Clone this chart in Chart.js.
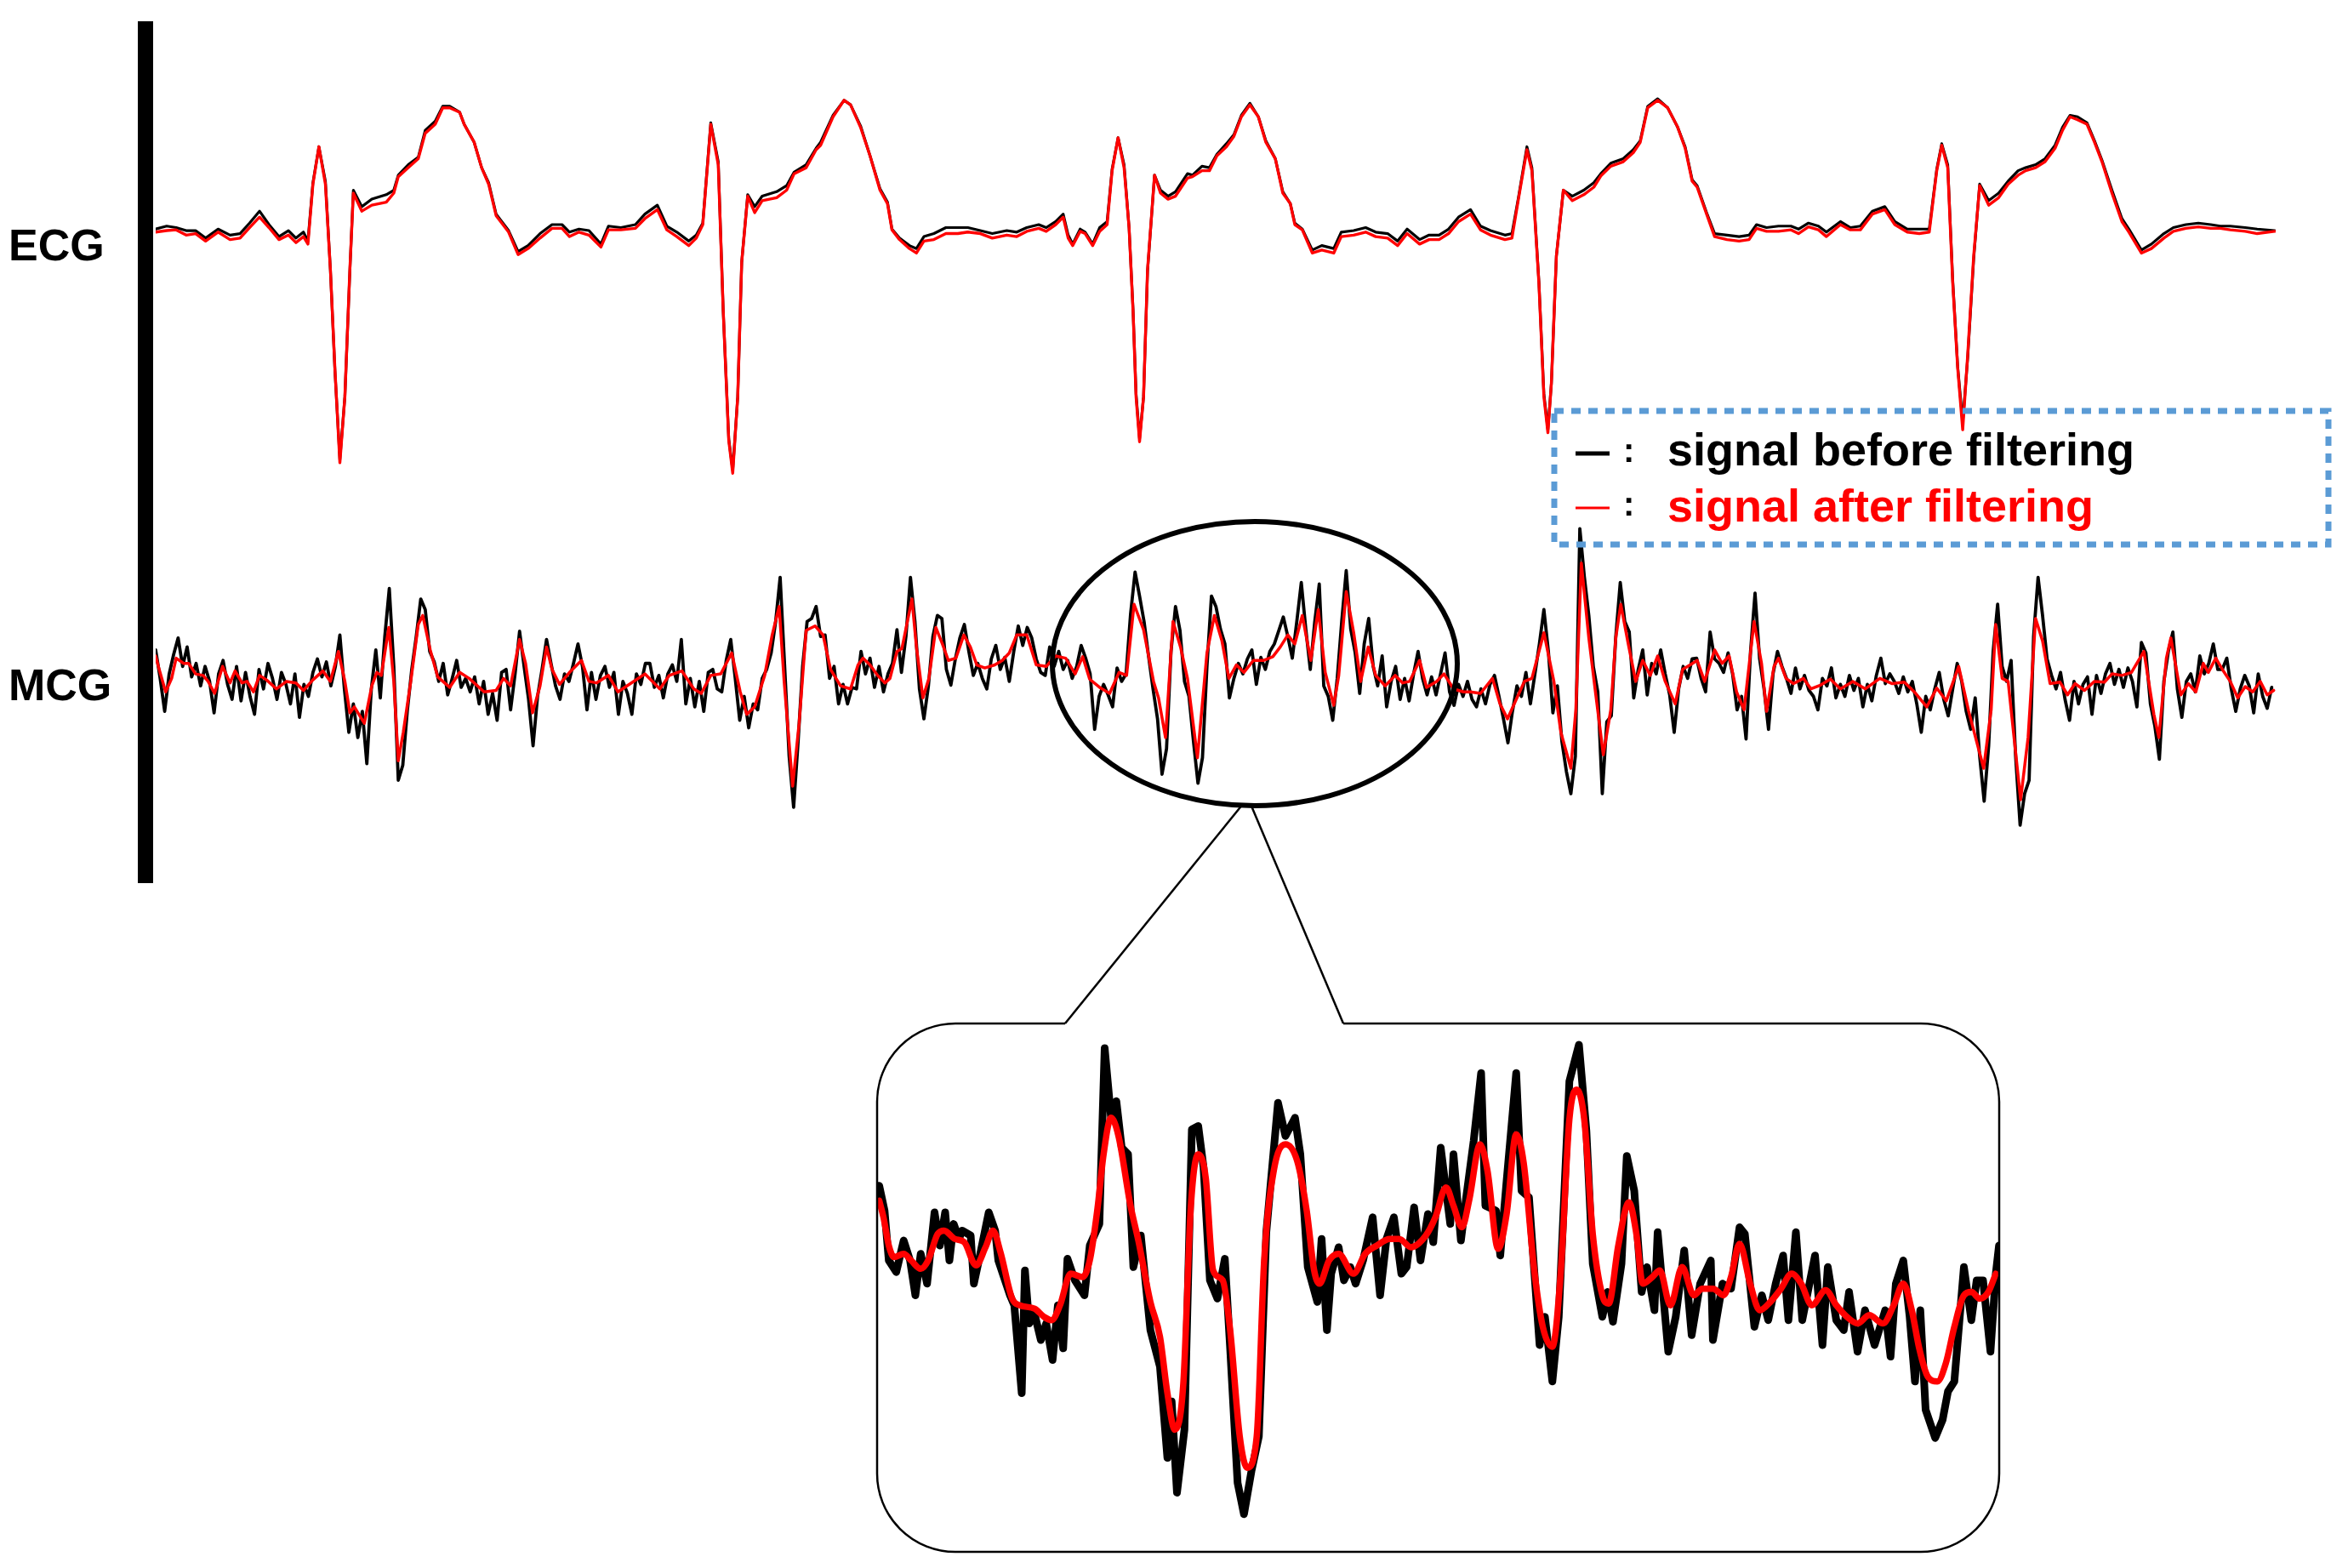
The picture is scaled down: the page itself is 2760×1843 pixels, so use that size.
<!DOCTYPE html>
<html lang="en">
<head>
<meta charset="UTF-8">
<title>ECG / MCG - signal before and after filtering</title>
<script src="https://cdn.jsdelivr.net/npm/chart.js@4.4.1/dist/chart.umd.min.js"></script>
<style>
    html, body { margin: 0; padding: 0; background: #ffffff; }
    #page { position: relative; width: 2760px; height: 1843px; overflow: hidden; background: #ffffff; }
    .plot { position: absolute; }
    .plot canvas { display: block; }
    #overlay { position: absolute; left: 0; top: 0; }
</style>
</head>
<body>
<div id="page">
    <div class="plot" style="left:183px; top:80px; width:2492px; height:520px;">
        <canvas id="ecgChart" width="2492" height="520"></canvas>
    </div>
    <div class="plot" style="left:183px; top:600px; width:2492px; height:400px;">
        <canvas id="mcgChart" width="2492" height="400"></canvas>
    </div>
    <div class="plot" style="left:1031px; top:1210px; width:1319px; height:610px;">
        <canvas id="zoomChart" width="1319" height="610"></canvas>
    </div>

    <svg id="overlay" width="2760" height="1843" xmlns="http://www.w3.org/2000/svg">
        <!-- barre verticale -->
        <rect x="162" y="25" width="18" height="1013" fill="#000"/>
        <text x="10" y="306" font-family="'Liberation Sans', Arial, sans-serif" font-weight="bold" font-size="52">ECG</text>
        <text x="10" y="823" font-family="'Liberation Sans', Arial, sans-serif" font-weight="bold" font-size="52">MCG</text>

        <!-- légende -->
        <rect x="1827" y="483" width="910" height="157" fill="none" stroke="#5B9BD5" stroke-width="7" stroke-dasharray="11 9"/>
        <line x1="1852" y1="533" x2="1892" y2="533" stroke="#000" stroke-width="5"/>
        <line x1="1852" y1="597" x2="1892" y2="597" stroke="#ff0000" stroke-width="3"/>
        <text x="1908" y="543" font-family="'Liberation Sans', Arial, sans-serif" font-weight="bold" font-size="40">:</text>
        <text x="1908" y="606" font-family="'Liberation Sans', Arial, sans-serif" font-weight="bold" font-size="40">:</text>
        <text x="1960" y="547" font-family="'Liberation Sans', Arial, sans-serif" font-weight="bold" font-size="54" fill="#000">signal before filtering</text>
        <text x="1960" y="613" font-family="'Liberation Sans', Arial, sans-serif" font-weight="bold" font-size="54" fill="#ff0000">signal after filtering</text>

        <!-- ellipse et encadré du zoom -->
        <ellipse cx="1475" cy="780" rx="238" ry="167" fill="none" stroke="#000" stroke-width="6"/>
        <path d="M1252,1203 L1123,1203 A92,92 0 0 0 1031,1295 L1031,1732 A92,92 0 0 0 1123,1824 L2258,1824 A92,92 0 0 0 2350,1732 L2350,1295 A92,92 0 0 0 2258,1203 L1579,1203"
              fill="none" stroke="#000" stroke-width="2.5"/>
        <line x1="1252" y1="1203" x2="1461" y2="945" stroke="#000" stroke-width="2.5"/>
        <line x1="1579" y1="1203" x2="1470" y2="945" stroke="#000" stroke-width="2.5"/>
    </svg>
</div>

<script>
// ECG : instants (ms) et amplitudes (mV)
const ecgTime = [
    0, 22, 41, 61, 80, 100, 125, 149, 169, 188,
    208, 227, 247, 266, 281, 296, 305, 315, 327, 340,
    350, 359, 369, 379, 389, 396, 413, 433, 462, 477,
    486, 506, 526, 540, 560, 575, 589, 609, 618, 638,
    653, 667, 682, 707, 726, 746, 770, 794, 814, 829,
    848, 868, 892, 907, 932, 961, 980, 1005, 1024, 1044,
    1068, 1083, 1096, 1112, 1127, 1137, 1148, 1156, 1166, 1174,
    1186, 1200, 1215, 1244, 1264, 1279, 1303, 1323, 1332, 1357,
    1379, 1392, 1412, 1431, 1451, 1466, 1475, 1490, 1510, 1524,
    1539, 1559, 1583, 1607, 1627, 1652, 1676, 1705, 1725, 1745,
    1769, 1784, 1803, 1818, 1828, 1837, 1852, 1862, 1877, 1891,
    1906, 1916, 1928, 1940, 1950, 1958, 1964, 1971, 1979, 1987,
    2001, 2013, 2028, 2043, 2067, 2077, 2096, 2111, 2126, 2145,
    2160, 2175, 2192, 2209, 2224, 2243, 2258, 2273, 2282, 2297,
    2317, 2336, 2360, 2375, 2400, 2424, 2444, 2468, 2488, 2507,
    2532, 2551, 2571, 2590, 2610, 2634, 2654, 2674, 2703, 2717,
    2730, 2747, 2757, 2771, 2781, 2789, 2796, 2806, 2820, 2838,
    2861, 2881, 2895, 2915, 2940, 2960, 2974, 2989, 3009, 3029,
    3049, 3064, 3078, 3088, 3108, 3123, 3148, 3172, 3192, 3207,
    3227, 3251, 3276, 3291, 3311, 3331, 3347, 3375, 3395, 3415,
    3439, 3464, 3484, 3509, 3533, 3553, 3568, 3578, 3590, 3600,
    3610, 3620, 3630, 3642, 3654, 3672, 3692, 3711, 3731, 3746,
    3766, 3785, 3805, 3820, 3835, 3850, 3869, 3884, 3899, 3919,
    3939, 3953, 3978, 3998, 4023, 4042, 4067, 4092, 4117, 4136,
    4156, 4186, 4210, 4245
];
const ecgAfter = [
    0.00, 0.01, 0.015, -0.02, -0.01, -0.06, 0.00, -0.05, -0.04, 0.03,
    0.10, 0.03, -0.05, -0.02, -0.07, -0.03, -0.08, 0.32, 0.57, 0.32,
    -0.25, -0.91, -1.54, -1.10, -0.25, 0.26, 0.14, 0.18, 0.20, 0.26,
    0.37, 0.43, 0.49, 0.66, 0.72, 0.83, 0.83, 0.80, 0.72, 0.60,
    0.43, 0.32, 0.11, 0.00, -0.15, -0.11, -0.04, 0.025, 0.025, -0.03,
    0.00, -0.02, -0.10, 0.015, 0.015, 0.025, 0.09, 0.15, 0.015, -0.03,
    -0.09, -0.04, 0.05, 0.72, 0.45, -0.53, -1.39, -1.61, -1.10, -0.20,
    0.24, 0.13, 0.21, 0.23, 0.28, 0.39, 0.43, 0.55, 0.58, 0.77,
    0.88, 0.85, 0.70, 0.51, 0.28, 0.19, 0.015, -0.05, -0.11, -0.14,
    -0.06, -0.05, -0.01, -0.01, 0.00, -0.01, -0.04, -0.02, -0.03, 0.005,
    0.025, 0.005, 0.05, 0.10, -0.04, -0.09, 0.005, -0.01, -0.09, 0.005,
    0.05, 0.41, 0.63, 0.43, 0.03, -0.53, -1.10, -1.40, -1.10, -0.25,
    0.38, 0.26, 0.22, 0.24, 0.36, 0.37, 0.41, 0.41, 0.51, 0.57,
    0.64, 0.77, 0.85, 0.77, 0.60, 0.49, 0.26, 0.19, 0.05, 0.015,
    -0.14, -0.12, -0.14, -0.03, -0.02, 0.00, -0.03, -0.04, -0.09, -0.01,
    -0.08, -0.05, -0.05, -0.01, 0.07, 0.12, 0.015, -0.02, -0.05, -0.04,
    0.22, 0.55, 0.41, -0.34, -1.10, -1.34, -1.01, -0.16, 0.28, 0.21,
    0.25, 0.30, 0.375, 0.44, 0.47, 0.53, 0.60, 0.83, 0.88, 0.83,
    0.70, 0.56, 0.34, 0.30, 0.11, -0.03, -0.05, -0.06, -0.05, 0.025,
    0.005, 0.005, 0.015, -0.01, 0.035, 0.015, -0.03, 0.05, 0.015, 0.015,
    0.12, 0.15, 0.05, 0.00, -0.01, 0.00, 0.41, 0.58, 0.43, -0.34,
    -0.91, -1.32, -0.82, -0.16, 0.31, 0.18, 0.23, 0.32, 0.38, 0.41,
    0.43, 0.47, 0.56, 0.68, 0.77, 0.75, 0.72, 0.60, 0.47, 0.26,
    0.07, 0.00, -0.14, -0.11, -0.04, 0.005, 0.025, 0.035, 0.025, 0.025,
    0.015, 0.005, -0.01, 0.005
];
const ecgBefore = [
    0.02, 0.04, 0.03, 0.01, 0.01, -0.04, 0.02, -0.02, -0.01, 0.06,
    0.14, 0.05, -0.03, 0.01, -0.04, 0.00, -0.06, 0.33, 0.57, 0.34,
    -0.25, -0.92, -1.52, -1.10, -0.26, 0.28, 0.17, 0.22, 0.25, 0.28,
    0.38, 0.45, 0.50, 0.68, 0.74, 0.84, 0.84, 0.80, 0.72, 0.60,
    0.43, 0.33, 0.12, 0.01, -0.13, -0.09, -0.01, 0.05, 0.05, 0.00,
    0.02, 0.01, -0.08, 0.04, 0.03, 0.05, 0.12, 0.18, 0.04, 0.00,
    -0.06, -0.02, 0.06, 0.73, 0.47, -0.53, -1.38, -1.59, -1.10, -0.20,
    0.25, 0.17, 0.24, 0.27, 0.31, 0.40, 0.45, 0.56, 0.60, 0.78,
    0.88, 0.85, 0.71, 0.51, 0.29, 0.20, 0.02, -0.04, -0.09, -0.11,
    -0.03, -0.01, 0.03, 0.03, 0.03, 0.01, -0.01, 0.01, 0.00, 0.03,
    0.05, 0.03, 0.07, 0.12, -0.02, -0.08, 0.02, 0.00, -0.08, 0.03,
    0.07, 0.42, 0.63, 0.45, 0.03, -0.52, -1.08, -1.38, -1.10, -0.26,
    0.38, 0.28, 0.24, 0.27, 0.39, 0.38, 0.44, 0.43, 0.52, 0.59,
    0.65, 0.78, 0.86, 0.77, 0.61, 0.49, 0.27, 0.19, 0.06, 0.02,
    -0.12, -0.09, -0.11, 0.00, 0.01, 0.03, 0.00, -0.01, -0.06, 0.02,
    -0.05, -0.02, -0.02, 0.02, 0.10, 0.15, 0.04, 0.01, -0.02, -0.01,
    0.23, 0.57, 0.43, -0.33, -1.08, -1.32, -1.01, -0.16, 0.28, 0.24,
    0.28, 0.33, 0.39, 0.46, 0.49, 0.55, 0.61, 0.84, 0.89, 0.83,
    0.70, 0.57, 0.35, 0.31, 0.12, -0.01, -0.02, -0.03, -0.02, 0.05,
    0.03, 0.04, 0.04, 0.02, 0.06, 0.04, 0.00, 0.07, 0.03, 0.04,
    0.14, 0.17, 0.07, 0.02, 0.02, 0.02, 0.42, 0.59, 0.45, -0.32,
    -0.90, -1.27, -0.84, -0.18, 0.32, 0.21, 0.26, 0.34, 0.41, 0.43,
    0.45, 0.49, 0.58, 0.70, 0.78, 0.77, 0.73, 0.61, 0.48, 0.28,
    0.09, 0.02, -0.12, -0.08, -0.01, 0.03, 0.05, 0.06, 0.05, 0.04,
    0.04, 0.03, 0.02, 0.01
];

// MCG : signal brut, un échantillon toutes les 9 ms
const mcgBeforeStep = 9;
const mcgBefore = [
    0.21, 0.02, -0.20, 0.05, 0.18, 0.29, 0.10, 0.23, 0.03, 0.12,
    -0.03, 0.10, 0.00, -0.21, 0.05, 0.14, -0.02, -0.12, 0.10, -0.13,
    0.06, -0.10, -0.22, 0.08, -0.05, 0.12, 0.02, -0.12, 0.06, -0.02,
    -0.15, 0.05, -0.24, -0.02, -0.10, 0.06, 0.15, 0.03, 0.13, -0.03,
    0.10, 0.31, -0.05, -0.34, -0.15, -0.375, -0.20, -0.55, -0.05, 0.21,
    -0.11, 0.30, 0.62, 0.10, -0.66, -0.56, -0.20, 0.08, 0.30, 0.55,
    0.48, 0.20, 0.13, 0.00, 0.12, -0.09, 0.02, 0.14, -0.04, 0.02,
    -0.07, 0.03, -0.15, 0.00, -0.22, -0.08, -0.26, 0.06, 0.08, -0.19,
    0.05, 0.335, 0.10, -0.12, -0.43, -0.10, 0.08, 0.28, 0.12, -0.03,
    -0.12, 0.05, 0.00, 0.12, 0.25, 0.10, -0.19, 0.06, -0.12, 0.04,
    0.10, -0.04, 0.06, -0.22, 0.00, -0.08, -0.22, 0.05, -0.02, 0.12,
    0.12, -0.04, 0.04, -0.11, 0.05, 0.11, 0.00, 0.28, -0.15, 0.02,
    -0.17, 0.00, -0.20, 0.06, 0.08, -0.05, -0.07, 0.14, 0.28, 0.02,
    -0.26, -0.10, -0.31, -0.15, -0.19, 0.02, 0.08, 0.19, 0.40, 0.695,
    0.10, -0.50, -0.84, -0.40, 0.10, 0.40, 0.42, 0.50, 0.30, 0.31,
    0.02, 0.10, -0.15, -0.02, -0.15, -0.04, -0.05, 0.20, 0.05, 0.155,
    -0.04, 0.10, -0.07, 0.05, 0.12, 0.345, 0.06, 0.30, 0.695, 0.40,
    -0.05, -0.25, -0.03, 0.30, 0.44, 0.42, 0.08, -0.025, 0.15, 0.29,
    0.38, 0.20, 0.04, 0.12, 0.02, -0.05, 0.15, 0.24, 0.08, 0.16,
    0.00, 0.20, 0.37, 0.24, 0.36, 0.29, 0.15, 0.06, 0.04, 0.23,
    0.10, 0.20, 0.08, 0.14, 0.02, 0.10, 0.24, 0.155, 0.05, -0.32,
    -0.10, -0.02, -0.09, -0.17, 0.09, 0.00, 0.05, 0.45, 0.73, 0.57,
    0.40, 0.17, -0.05, -0.25, -0.62, -0.45, 0.20, 0.50, 0.34, 0.00,
    -0.10, -0.40, -0.68, -0.51, 0.10, 0.57, 0.50, 0.35, 0.25, -0.11,
    0.02, 0.12, 0.05, 0.15, 0.21, -0.02, 0.16, 0.08, 0.20, 0.25,
    0.34, 0.43, 0.30, 0.155, 0.40, 0.66, 0.35, 0.08, 0.40, 0.65,
    -0.03, -0.10, -0.26, 0.02, 0.40, 0.74, 0.35, 0.19, -0.08, 0.25,
    0.42, 0.10, -0.03, 0.17, -0.17, 0.00, 0.10, -0.12, 0.02, -0.13,
    0.05, 0.20, 0.02, -0.09, 0.03, -0.09, 0.05, 0.19, -0.07, -0.16,
    -0.02, -0.10, 0.00, -0.12, -0.17, -0.05, -0.15, -0.02, 0.04, -0.10,
    -0.25, -0.41, -0.20, -0.03, -0.10, 0.06, -0.15, 0.05, 0.25, 0.48,
    0.20, -0.21, -0.03, -0.40, -0.60, -0.75, -0.50, 1.02, 0.70, 0.44,
    0.10, -0.07, -0.75, -0.27, -0.23, 0.30, 0.66, 0.40, 0.33, -0.11,
    0.08, 0.21, -0.09, 0.12, 0.05, 0.21, 0.05, -0.09, -0.34, -0.05,
    0.10, 0.02, 0.15, 0.155, 0.02, -0.07, 0.33, 0.15, 0.12, 0.06,
    0.19, 0.05, -0.19, -0.10, -0.385, 0.20, 0.59, 0.155, -0.05, -0.32,
    0.05, 0.20, 0.10, 0.02, -0.08, 0.09, -0.05, 0.04, -0.06, -0.10,
    -0.19, 0.02, -0.03, 0.09, -0.11, -0.02, -0.10, 0.04, -0.06, 0.02,
    -0.17, -0.02, -0.13, 0.04, 0.155, -0.015, 0.05, 0.00, -0.08, 0.03,
    -0.07, 0.00, -0.15, -0.34, -0.10, -0.19, -0.05, 0.06, -0.12, -0.23,
    -0.05, 0.12, 0.00, -0.20, -0.32, -0.11, -0.50, -0.80, -0.43, 0.20,
    0.515, 0.10, 0.00, 0.14, -0.50, -0.96, -0.75, -0.66, 0.30, 0.695,
    0.44, 0.15, 0.04, -0.05, 0.06, -0.12, -0.26, 0.00, -0.15, -0.02,
    0.03, -0.22, 0.04, -0.08, 0.05, 0.12, -0.02, 0.08, -0.04, 0.09,
    0.00, -0.17, 0.26, 0.19, -0.15, -0.30, -0.52, 0.00, 0.20, 0.33,
    -0.05, -0.24, 0.00, 0.05, -0.07, 0.17, 0.05, 0.12, 0.25, 0.08,
    0.08, 0.155, -0.05, -0.20, -0.05, 0.04, -0.03, -0.21, 0.05, -0.10,
    -0.18, -0.04
];

// MCG filtré : instants (ms) et amplitudes (pT)
const mcgAfterTime = [
    0, 7, 20, 32, 41, 56, 66, 80, 95, 105,
    118, 134, 149, 159, 173, 183, 196, 208, 222, 242,
    262, 281, 296, 315, 335, 350, 366, 379, 389, 398,
    418, 433, 443, 452, 467, 477, 486, 496, 511, 526,
    535, 550, 565, 589, 609, 628, 658, 682, 697, 711,
    729, 741, 755, 770, 783, 794, 809, 829, 853, 868,
    883, 907, 926, 951, 980, 1010, 1029, 1054, 1078, 1093,
    1112, 1132, 1154, 1171, 1184, 1200, 1220, 1235, 1249, 1259,
    1276, 1289, 1303, 1321, 1337, 1352, 1372, 1392, 1407, 1417,
    1431, 1446, 1461, 1471, 1485, 1495, 1515, 1524, 1537, 1549,
    1563, 1576, 1588, 1603, 1619, 1632, 1645, 1661, 1681, 1696,
    1710, 1725, 1745, 1764, 1784, 1803, 1823, 1842, 1857, 1871,
    1891, 1911, 1930, 1945, 1960, 1979, 1999, 2009, 2023, 2038,
    2053, 2067, 2087, 2106, 2121, 2136, 2150, 2165, 2180, 2199,
    2219, 2238, 2253, 2268, 2282, 2297, 2314, 2329, 2343, 2360,
    2370, 2385, 2400, 2414, 2429, 2444, 2463, 2483, 2498, 2512,
    2532, 2546, 2566, 2581, 2600, 2620, 2634, 2654, 2678, 2693,
    2708, 2727, 2742, 2757, 2781, 2801, 2815, 2835, 2845, 2856,
    2871, 2885, 2900, 2915, 2925, 2935, 2950, 2965, 2979, 2994,
    3009, 3024, 3044, 3059, 3074, 3088, 3103, 3123, 3138, 3152,
    3167, 3182, 3202, 3217, 3227, 3242, 3251, 3266, 3281, 3301,
    3316, 3335, 3355, 3375, 3400, 3425, 3454, 3479, 3503, 3523,
    3548, 3568, 3587, 3612, 3632, 3662, 3677, 3686, 3699, 3711,
    3736, 3751, 3766, 3780, 3795, 3815, 3830, 3845, 3864, 3884,
    3904, 3919, 3939, 3958, 3983, 4003, 4013, 4028, 4037, 4057,
    4072, 4087, 4102, 4112, 4127, 4142, 4156, 4171, 4186, 4201,
    4216, 4230, 4243
];
const mcgAfter = [
    0.17, 0.08, -0.07, 0.02, 0.155, 0.12, 0.12, 0.05, 0.04, 0.00,
    -0.08, 0.10, -0.01, 0.07, -0.01, 0.00, -0.07, 0.04, 0.01, -0.05,
    0.00, -0.01, -0.06, 0.01, 0.07, 0.00, 0.20, 0.00, -0.21, -0.17,
    -0.28, -0.03, 0.06, 0.04, 0.36, 0.00, -0.53, -0.34, 0.00, 0.38,
    0.44, 0.21, 0.03, -0.04, 0.06, 0.02, -0.07, -0.06, 0.02, -0.03,
    0.28, 0.12, -0.21, -0.03, 0.23, 0.08, -0.02, 0.06, 0.14, 0.00,
    -0.01, 0.04, -0.07, -0.015, 0.05, -0.05, 0.04, 0.07, -0.05, -0.08,
    0.04, 0.05, 0.19, -0.07, -0.22, -0.17, 0.04, 0.31, 0.50, 0.00,
    -0.70, -0.28, 0.34, 0.37, 0.31, 0.08, -0.03, -0.05, 0.11, 0.155,
    0.11, 0.04, -0.01, 0.02, 0.20, 0.22, 0.55, 0.23, -0.11, 0.02,
    0.36, 0.25, 0.14, 0.155, 0.31, 0.23, 0.11, 0.09, 0.11, 0.14,
    0.19, 0.31, 0.31, 0.11, 0.10, 0.17, 0.155, 0.05, 0.165, 0.015,
    -0.04, -0.08, 0.06, 0.04, 0.515, 0.345, 0.00, -0.11, -0.375, 0.40,
    0.23, 0.02, -0.51, 0.19, 0.44, 0.27, 0.02, 0.11, 0.06, 0.14,
    0.14, 0.165, 0.23, 0.31, 0.25, 0.44, 0.14, 0.48, 0.06, -0.16,
    0.04, 0.60, 0.325, 0.00, 0.23, 0.04, -0.03, 0.04, -0.01, 0.00,
    0.14, -0.04, 0.00, 0.05, -0.05, -0.07, -0.07, -0.08, 0.02, -0.15,
    -0.25, -0.11, 0.00, 0.02, 0.325, 0.00, -0.34, -0.58, -0.19, 0.79,
    0.29, -0.09, -0.49, -0.19, 0.29, 0.515, 0.25, 0.00, 0.14, 0.04,
    0.17, 0.00, -0.15, 0.08, 0.11, 0.14, 0.00, 0.21, 0.12, 0.17,
    -0.07, -0.19, 0.40, 0.12, -0.20, 0.10, 0.155, 0.02, -0.015, 0.02,
    -0.05, -0.025, 0.015, -0.05, 0.00, -0.05, 0.02, -0.015, -0.005, -0.07,
    -0.17, -0.045, -0.13, 0.10, -0.20, -0.58, -0.19, 0.38, 0.02, 0.00,
    -0.79, -0.375, 0.42, 0.27, -0.015, -0.005, -0.09, -0.015, -0.06, 0.00,
    -0.005, 0.05, 0.04, 0.06, 0.20, -0.22, -0.375, 0.155, 0.29, -0.09,
    -0.015, -0.07, 0.12, 0.06, 0.155, 0.07, 0.00, -0.11, -0.035, -0.07,
    0.00, -0.09, -0.06
];

// Zoom : instants (ms) et amplitudes (pT)
const zoomBeforeTime = [
    2, 7, 11, 18, 25, 31, 36, 41, 47, 54,
    59, 64, 68, 72, 77, 80, 88, 91, 97, 105,
    111, 114, 125, 129, 136, 139, 143, 148, 154, 159,
    165, 170, 175, 179, 186, 195, 200, 209, 214, 220,
    225, 230, 236, 241, 248, 257, 266, 273, 277, 282,
    289, 296, 302, 307, 313, 320, 327, 332, 339, 345,
    352, 359, 366, 377, 384, 393, 398, 405, 414, 418,
    423, 427, 434, 439, 445, 450, 457, 466, 473, 479,
    486, 493, 498, 505, 511, 518, 523, 530, 539, 542,
    549, 554, 561, 568, 572, 582, 586, 592, 601, 606,
    613, 623, 628, 635, 641, 651, 660, 667, 673, 682,
    687, 692, 700, 705, 712, 719, 724, 731, 734, 744,
    751, 759, 766, 774, 784, 786, 795, 803, 811, 816,
    825, 832, 838, 845, 852, 857, 864, 870, 882, 889,
    894, 902, 909, 914, 922, 929, 938, 948, 953, 958,
    965, 971, 976, 981, 986, 995, 1002, 1007, 1013, 1022,
    1029, 1034, 1040, 1047, 1052, 1055
];
const zoomBefore = [
    0.375, 0.30, 0.15, 0.115, 0.21, 0.15, 0.045, 0.17, 0.08, 0.295,
    0.195, 0.295, 0.15, 0.26, 0.215, 0.24, 0.225, 0.08, 0.17, 0.295,
    0.24, 0.15, 0.045, 0.015, -0.25, 0.12, -0.04, -0.01, -0.09, -0.04,
    -0.15, 0.015, -0.115, 0.155, 0.09, 0.045, 0.195, 0.26, 0.79, 0.58,
    0.63, 0.49, 0.47, 0.13, 0.225, -0.06, -0.17, -0.445, -0.275, -0.55,
    -0.36, 0.545, 0.555, 0.43, 0.09, 0.035, 0.155, -0.115, -0.52, -0.615,
    -0.485, -0.38, 0.235, 0.625, 0.525, 0.58, 0.47, 0.13, 0.025, 0.215,
    -0.06, 0.11, 0.19, 0.09, 0.13, 0.08, 0.15, 0.28, 0.045, 0.215,
    0.28, 0.11, 0.13, 0.31, 0.15, 0.29, 0.205, 0.49, 0.26, 0.47,
    0.21, 0.34, 0.51, 0.715, 0.315, 0.30, 0.165, 0.39, 0.715, 0.36,
    0.34, -0.105, -0.02, -0.215, -0.02, 0.69, 0.80, 0.54, 0.14, -0.02,
    0.055, -0.035, 0.14, 0.465, 0.36, 0.055, 0.13, 0.00, 0.235, -0.125,
    -0.02, 0.18, -0.075, 0.08, 0.15, -0.09, 0.08, 0.065, 0.25, 0.23,
    -0.05, 0.045, -0.03, 0.08, 0.165, -0.03, 0.235, -0.03, 0.165, -0.105,
    0.13, -0.03, -0.06, 0.055, -0.125, 0.00, -0.105, 0.00, -0.14, 0.08,
    0.15, -0.02, -0.215, 0.00, -0.30, -0.385, -0.33, -0.245, -0.215, 0.13,
    -0.03, 0.09, 0.09, -0.125, 0.11, 0.195
];
const zoomAfterTime = [
    2, 6, 11, 16, 25, 32, 41, 48, 57, 63,
    73, 82, 93, 102, 109, 116, 127, 134, 148, 157,
    164, 172, 182, 193, 200, 207, 213, 220, 227, 238,
    246, 257, 266, 273, 280, 288, 295, 302, 309, 316,
    325, 332, 341, 348, 357, 364, 373, 384, 395, 404,
    411, 416, 425, 434, 448, 459, 470, 482, 491, 502,
    516, 525, 535, 542, 550, 557, 567, 574, 584, 592,
    601, 608, 618, 626, 635, 643, 651, 658, 665, 673,
    682, 688, 697, 707, 714, 720, 729, 736, 746, 757,
    768, 776, 786, 796, 803, 811, 821, 830, 840, 850,
    860, 869, 879, 892, 902, 912, 922, 933, 946, 956,
    965, 973, 980, 988, 997, 1005, 1013, 1022, 1029, 1037,
    1045, 1052
];
const zoomAfter = [
    0.33, 0.28, 0.195, 0.16, 0.17, 0.15, 0.125, 0.15, 0.23, 0.24,
    0.215, 0.205, 0.135, 0.19, 0.24, 0.175, 0.035, 0.015, 0.005, -0.02,
    -0.03, 0.015, 0.11, 0.10, 0.15, 0.30, 0.47, 0.58, 0.525, 0.32,
    0.205, 0.025, -0.08, -0.25, -0.36, -0.22, 0.31, 0.47, 0.40, 0.12,
    0.09, -0.06, -0.38, -0.475, -0.38, 0.15, 0.42, 0.50, 0.45, 0.30,
    0.12, 0.08, 0.15, 0.17, 0.11, 0.17, 0.195, 0.215, 0.215, 0.19,
    0.225, 0.28, 0.37, 0.315, 0.25, 0.335, 0.50, 0.42, 0.185, 0.29,
    0.53, 0.445, 0.12, -0.05, -0.11, 0.12, 0.575, 0.665, 0.575, 0.23,
    0.045, 0.02, 0.195, 0.325, 0.23, 0.08, 0.10, 0.12, 0.015, 0.13,
    0.045, 0.065, 0.065, 0.045, 0.10, 0.20, 0.08, 0.00, 0.025, 0.065,
    0.11, 0.08, 0.015, 0.06, 0.015, -0.02, -0.04, -0.015, -0.04, 0.015,
    0.08, 0.00, -0.115, -0.20, -0.215, -0.16, -0.05, 0.045, 0.055, 0.035,
    0.055, 0.11
];

document.addEventListener('DOMContentLoaded', () => {
    // ECG
    createTraceChart('ecgChart', {
        xMax: 4247, yMin: -1.8589, yMax: 1.0953,
        before: toPoints(ecgTime, ecgBefore),
        after: toPoints(ecgTime, ecgAfter),
        beforeWidth: 3.2, afterWidth: 3.4, smooth: false
    });

    // MCG
    createTraceChart('mcgChart', {
        xMax: 4247, yMin: -1.1311, yMax: 1.1413,
        before: mcgBefore.map((v, i) => ({ x: i * mcgBeforeStep, y: v })),
        after: toPoints(mcgAfterTime, mcgAfter),
        beforeWidth: 3.8, afterWidth: 3.5, smooth: false
    });

    // Zoom sur la zone entourée
    createTraceChart('zoomChart', {
        xMax: 1055.2, yMin: -0.71795, yMax: 0.84615,
        before: toPoints(zoomBeforeTime, zoomBefore),
        after: toPoints(zoomAfterTime, zoomAfter),
        beforeWidth: 9, afterWidth: 7.5, smooth: true
    });
});

function toPoints(times, values) {
    return values.map((v, i) => ({ x: times[i], y: v }));
}

function createTraceChart(canvasId, cfg) {
    const canvas = document.getElementById(canvasId);
    if (!canvas) return null;

    return new Chart(canvas, {
        type: 'line',
        data: {
            datasets: [
                {
                    label: 'signal after filtering',
                    data: cfg.after,
                    borderColor: '#ff0000',
                    borderWidth: cfg.afterWidth,
                    cubicInterpolationMode: cfg.smooth ? 'monotone' : 'default',
                    order: 0
                },
                {
                    label: 'signal before filtering',
                    data: cfg.before,
                    borderColor: '#000000',
                    borderWidth: cfg.beforeWidth,
                    order: 1
                }
            ]
        },
        options: {
            responsive: false,
            animation: false,
            devicePixelRatio: 1,
            layout: { padding: 0 },
            elements: {
                point: { radius: 0, hoverRadius: 0 },
                line: { tension: 0, borderJoinStyle: 'round', borderCapStyle: 'round', fill: false }
            },
            scales: {
                x: { type: 'linear', min: 0, max: cfg.xMax, display: false },
                y: { type: 'linear', min: cfg.yMin, max: cfg.yMax, display: false }
            },
            plugins: {
                legend: { display: false },
                tooltip: { enabled: false }
            }
        }
    });
}
</script>
</body>
</html>
